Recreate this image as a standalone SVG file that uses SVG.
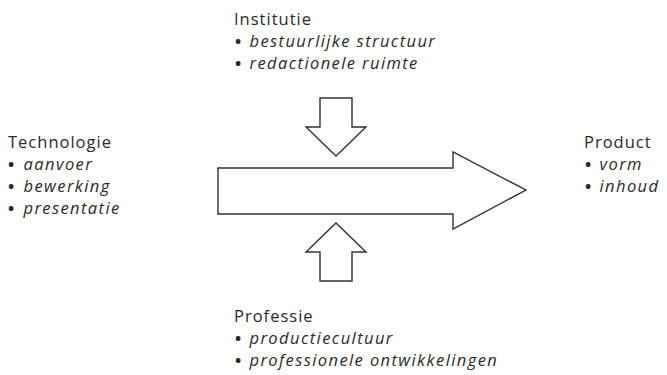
<svg xmlns="http://www.w3.org/2000/svg" width="667" height="375" viewBox="0 0 667 375">
<style>
text{font-family:"Open Sans","Noto Sans",sans-serif;font-size:16.5px;fill:#2a2a2a;letter-spacing:1px}
.i{font-style:italic;letter-spacing:1.4px}
.b{font-weight:bold;letter-spacing:0}
.sh{fill:#fff;stroke:#333;stroke-width:1.4;stroke-linejoin:miter}
</style>
<rect width="667" height="375" fill="#fff"/>
<g id="connectors">
<path id="main-arrow" class="sh" d="M218,168 H453 V152 L526,190 L453,229 V214 H218 Z"/>
<path id="down-arrow" class="sh" d="M320,98 H352 V127 H366 L336,156 L306,127 H320 Z"/>
<path id="up-arrow" class="sh" d="M320,281 H352 V252 H366 L336,223 L306,252 H320 Z"/>
</g>
<g id="institutie">
<text x="234" y="25">Institutie</text>
<text x="235" y="47"><tspan class="b">•</tspan> <tspan class="i" dx="3">bestuurlijke structuur</tspan></text>
<text x="235" y="69"><tspan class="b">•</tspan> <tspan class="i" dx="3">redactionele ruimte</tspan></text>
</g>
<g id="technologie">
<text x="8" y="148">Technologie</text>
<text x="8" y="170"><tspan class="b">•</tspan> <tspan class="i" dx="4">aanvoer</tspan></text>
<text x="8" y="192"><tspan class="b">•</tspan> <tspan class="i" dx="4">bewerking</tspan></text>
<text x="8" y="214"><tspan class="b">•</tspan> <tspan class="i" dx="4">presentatie</tspan></text>
</g>
<g id="product">
<text x="584" y="148">Product</text>
<text x="585" y="170"><tspan class="b">•</tspan> <tspan class="i" dx="3">vorm</tspan></text>
<text x="585" y="192"><tspan class="b">•</tspan> <tspan class="i" dx="3">inhoud</tspan></text>
</g>
<g id="professie">
<text x="234" y="322">Professie</text>
<text x="235" y="344"><tspan class="b">•</tspan> <tspan class="i" dx="3">productiecultuur</tspan></text>
<text x="235" y="366"><tspan class="b">•</tspan> <tspan class="i" dx="3">professionele ontwikkelingen</tspan></text>
</g>
</svg>
